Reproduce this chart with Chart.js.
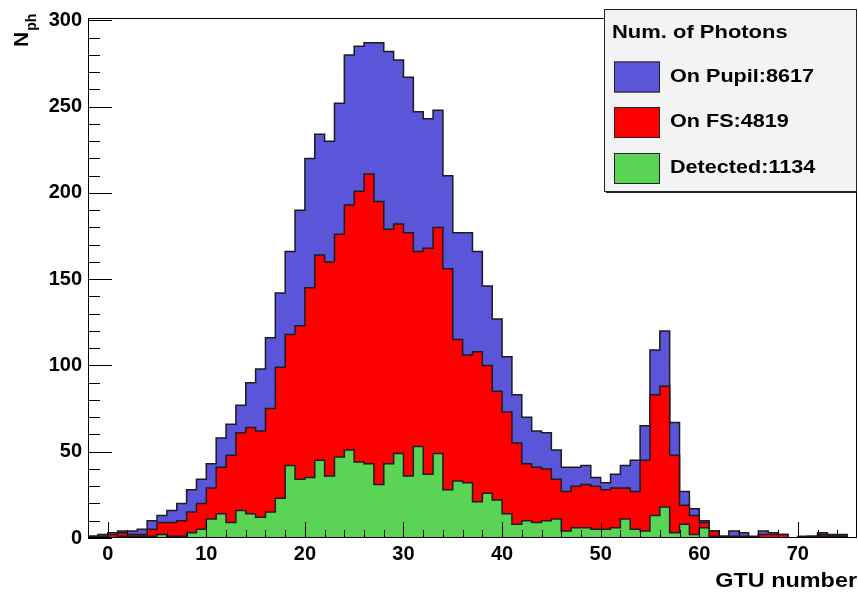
<!DOCTYPE html>
<html>
<head>
<meta charset="utf-8">
<title>Photons per GTU</title>
<script src="https://cdn.jsdelivr.net/npm/chart.js@4.4.1/dist/chart.umd.min.js"></script>
<style>
  html, body { margin: 0; padding: 0; background: #fff; }
  canvas { display: block; }
</style>
</head>
<body>
<canvas id="photonChart" width="858" height="592"></canvas>
<script>
// left edge of each 1-GTU bin, last edge closes the histogram
const gtuBins = [
  -2, -1, 0, 1, 2, 3, 4, 5, 6, 7, 8, 9, 10, 11, 12, 13, 14, 15, 16, 17,
  18, 19, 20, 21, 22, 23, 24, 25, 26, 27, 28, 29, 30, 31, 32, 33, 34, 35, 36, 37,
  38, 39, 40, 41, 42, 43, 44, 45, 46, 47, 48, 49, 50, 51, 52, 53, 54, 55, 56, 57,
  58, 59, 60, 61, 62, 63, 64, 65, 66, 67, 68, 69, 70, 71, 72, 73, 74, 75
];
const lastEdge = 76;

const onPupil = [
  1, 2, 3, 4, 4, 5, 10, 13, 16, 20, 28, 34, 43, 58, 66, 77, 90, 98, 116, 142,
  166, 190, 220, 234, 230, 252, 280, 285, 287, 287, 282, 277, 267, 247, 243, 248, 210, 177, 177, 166,
  146, 127, 105, 83, 70, 62, 61, 51, 41, 41, 42, 35, 32, 37, 42, 45, 65, 109, 120, 67,
  27, 17, 10, 4, 1, 4, 3, 1, 4, 3, 2, 0, 0, 1, 3, 2, 2, 0
];
const onFS = [
  1, 1, 2, 3, 2, 2, 5, 9, 9, 10, 15, 20, 29, 41, 48, 61, 64, 62, 75, 99,
  118, 123, 145, 164, 160, 176, 193, 201, 211, 195, 179, 182, 177, 166, 168, 180, 156, 115, 106, 108,
  100, 85, 73, 55, 43, 41, 40, 34, 27, 30, 31, 30, 28, 29, 29, 27, 45, 83, 88, 48,
  19, 13, 9, 4, 1, 1, 1, 0, 2, 2, 2, 0, 0, 0, 2, 1, 1, 0
];
const detected = [
  0, 0, 0, 1, 1, 1, 1, 2, 1, 1, 3, 5, 11, 14, 9, 16, 14, 12, 15, 23,
  42, 34, 35, 45, 36, 47, 51, 44, 43, 31, 43, 49, 36, 53, 37, 49, 28, 33, 32, 21,
  26, 22, 14, 8, 10, 9, 10, 11, 4, 6, 6, 5, 5, 6, 11, 5, 4, 13, 18, 3,
  8, 2, 6, 1, 0, 0, 0, 0, 0, 0, 0, 0, 1, 1, 1, 1, 1, 0
];

const xTickValues = [0, 10, 20, 30, 40, 50, 60, 70];
const yTickValues = [0, 50, 100, 150, 200, 250, 300];

const legendTitle = 'Num. of Photons';
const seriesLabels = ['On Pupil:8617', 'On FS:4819', 'Detected:1134'];
const seriesColors = ['#5a55d9', '#ff0000', '#59d454'];
const xTitle = 'GTU number';

const FONT = '"Liberation Sans", Arial, Helvetica, sans-serif';

// one point per bin edge, held flat until the next edge
function toSteps(values) {
  const pts = gtuBins.map((g, i) => ({ x: g, y: values[i] }));
  pts.push({ x: lastEdge, y: values[values.length - 1] });
  return pts;
}

function wideText(ctx, text, x, y, sx, align) {
  ctx.save();
  ctx.translate(x, y);
  ctx.scale(sx, 1);
  ctx.textAlign = align;
  ctx.fillText(text, 0, 0);
  ctx.restore();
}

// frame, inward tick marks, axis titles and the boxed legend
const rootStyle = {
  id: 'rootStyle',
  afterDraw(chart) {
    const { ctx, chartArea: a, scales: { x, y } } = chart;
    ctx.save();
    ctx.strokeStyle = '#000';
    ctx.lineWidth = 1;
    ctx.strokeRect(a.left + 0.5, a.top + 0.5, a.right - a.left - 1, a.bottom - a.top - 1);

    ctx.beginPath();
    for (let v = -2; v <= 74; v += 2) {
      const px = Math.round(x.getPixelForValue(v)) + 0.5;
      const len = v % 10 === 0 ? 16 : 8;
      ctx.moveTo(px, a.bottom);
      ctx.lineTo(px, a.bottom - len);
    }
    for (let v = 0; v <= 300; v += 10) {
      const py = Math.round(y.getPixelForValue(v)) + 0.5;
      const len = v % 50 === 0 ? 24 : 12;
      ctx.moveTo(a.left, py);
      ctx.lineTo(a.left + len, py);
    }
    ctx.stroke();

    ctx.fillStyle = '#000';
    ctx.textBaseline = 'alphabetic';

    // x title
    ctx.font = 'bold 19.5px ' + FONT;
    wideText(ctx, xTitle, a.right, 587, 1.2, 'right');

    // y title N_ph, rotated
    ctx.save();
    ctx.translate(28, 47);
    ctx.rotate(-Math.PI / 2);
    ctx.textAlign = 'left';
    ctx.font = 'bold 21px ' + FONT;
    ctx.fillText('N', 0, 0);
    const nw = ctx.measureText('N').width;
    ctx.font = 'bold 14px ' + FONT;
    ctx.fillText('ph', nw + 1, 8);
    ctx.restore();

    // legend box
    const lx = 604, ly = 9, lw = a.right - lx, lh = 183;
    ctx.fillStyle = '#f3f3f3';
    ctx.fillRect(lx, ly, lw, lh);
    ctx.strokeStyle = '#222';
    ctx.strokeRect(lx + 0.5, ly + 0.5, lw - 1, lh - 1);
    ctx.fillStyle = '#222';
    ctx.fillRect(lx + 2, ly + lh - 1, lw - 2, 2);

    ctx.fillStyle = '#000';
    ctx.textBaseline = 'middle';
    ctx.font = 'bold 18px ' + FONT;
    wideText(ctx, legendTitle, 612, 33, 1.22, 'left');

    const rowY = [77, 122.5, 168.5];
    seriesLabels.forEach((label, i) => {
      ctx.fillStyle = seriesColors[i];
      ctx.fillRect(614, rowY[i] - 15.5, 46, 31);
      ctx.strokeStyle = '#222';
      ctx.strokeRect(614.5, rowY[i] - 15, 45, 30);
      ctx.fillStyle = '#000';
      wideText(ctx, label, 670, rowY[i], 1.2, 'left');
    });
    ctx.restore();
  }
};

const outline = {
  stepped: 'before',
  fill: 'origin',
  borderColor: '#1c1c1c',
  borderWidth: 1.5,
  pointRadius: 0,
  tension: 0
};

new Chart(document.getElementById('photonChart'), {
  type: 'line',
  data: {
    datasets: [
      { ...outline, label: seriesLabels[0], data: toSteps(onPupil), backgroundColor: seriesColors[0], order: 3 },
      { ...outline, label: seriesLabels[1], data: toSteps(onFS), backgroundColor: seriesColors[1], order: 2 },
      { ...outline, label: seriesLabels[2], data: toSteps(detected), backgroundColor: seriesColors[2], order: 1 }
    ]
  },
  options: {
    responsive: false,
    animation: false,
    devicePixelRatio: 1,
    layout: { padding: { top: 13, right: 1, left: 0, bottom: 0 } },
    plugins: { legend: { display: false }, tooltip: { enabled: false } },
    scales: {
      x: {
        type: 'linear',
        min: -2,
        max: 76,
        grid: { display: false, drawTicks: false },
        border: { display: false },
        ticks: {
          padding: 4,
          maxRotation: 0,
          color: '#000',
          font: { family: FONT, size: 20, weight: 'bold' }
        },
        afterBuildTicks(scale) { scale.ticks = xTickValues.map(v => ({ value: v })); },
        afterFit(scale) { scale.height = 54; }
      },
      y: {
        min: 0,
        max: 301.4,
        grid: { display: false, drawTicks: false },
        border: { display: false },
        ticks: {
          padding: 6,
          color: '#000',
          font: { family: FONT, size: 20, weight: 'bold' }
        },
        afterBuildTicks(scale) { scale.ticks = yTickValues.map(v => ({ value: v })); },
        afterFit(scale) { scale.width = 88; }
      }
    }
  },
  plugins: [rootStyle]
});
</script>
</body>
</html>
